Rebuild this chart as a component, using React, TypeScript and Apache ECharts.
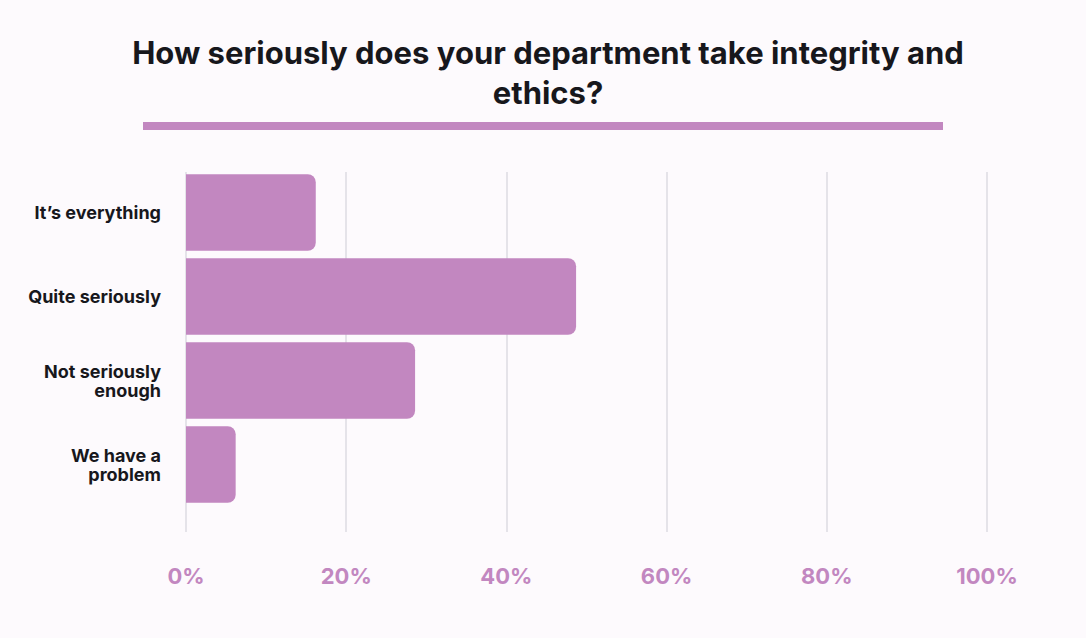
import React, { useEffect, useRef } from "react";
import * as echarts from "echarts";

const titleLines = ["How seriously does your department take integrity and", "ethics?"];
const categories = ["It’s everything", "Quite seriously", "Not seriously\nenough", "We have a\nproblem"];
const values = [16.2, 48.7, 28.6, 6.2];
const xTicks = [0, 20, 40, 60, 80, 100];

const PURPLE = "#c287c0";
const BG = "#fdfafd";

export default function App() {
  const ref = useRef<HTMLDivElement>(null);
  useEffect(() => {
    if (!ref.current) return;
    const chart = echarts.init(ref.current, undefined, { renderer: "svg" });
    chart.setOption({
      animation: false,
      backgroundColor: BG,
      title: {
        text: titleLines.join("\n"),
        left: 543,
        top: 27,
        textAlign: "center",
        textStyle: {
          fontFamily: "Inter",
          fontWeight: "bold",
          fontSize: 31,
          lineHeight: 40,
          color: "#17171c",
        },
      },
      graphic: [
        {
          type: "rect",
          shape: { x: 143, y: 122, width: 800, height: 8 },
          style: { fill: PURPLE },
        },
      ],
      grid: [
        { left: 186, top: 170.5, width: 801, height: 336, containLabel: false },
        { left: 186, top: 172, width: 801, height: 360, containLabel: false },
      ],
      xAxis: [
        {
          gridIndex: 0,
          type: "value",
          min: 0,
          max: 100,
          interval: 20,
          axisLine: { show: false },
          axisTick: { show: false },
          axisLabel: { show: false },
          splitLine: { show: false },
        },
        {
          gridIndex: 1,
          type: "value",
          min: xTicks[0],
          max: xTicks[xTicks.length - 1],
          interval: 20,
          axisLine: { show: false },
          axisTick: { show: false },
          splitLine: { show: true, lineStyle: { color: "#dddbe2", width: 1.5 } },
          axisLabel: {
            margin: 33,
            formatter: (v: number) => `${v}%`,
            fontFamily: "Inter",
            fontWeight: "bold",
            fontSize: 22,
            color: PURPLE,
          },
        },
      ],
      yAxis: [
        {
          gridIndex: 0,
          type: "category",
          inverse: true,
          data: categories,
          axisLine: { show: false },
          axisTick: { show: false },
          axisLabel: {
            margin: 25,
            fontFamily: "Inter",
            fontWeight: "bold",
            fontSize: 18,
            lineHeight: 19,
            color: "#17171c",
            align: "right",
          },
        },
        {
          gridIndex: 1,
          type: "value",
          show: false,
          min: 0,
          max: 1,
          splitLine: { show: false },
        },
      ],
      series: [
        {
          type: "bar",
          xAxisIndex: 0,
          yAxisIndex: 0,
          data: values,
          barCategoryGap: "9%",
          itemStyle: { color: PURPLE, borderRadius: [0, 8, 8, 0] },
          z: 3,
        },
      ],
    });
    return () => chart.dispose();
  }, []);
  return (
    <div
      ref={ref}
      style={{ position: "fixed", left: 0, top: 0, width: 1086, height: 638 }}
    />
  );
}
